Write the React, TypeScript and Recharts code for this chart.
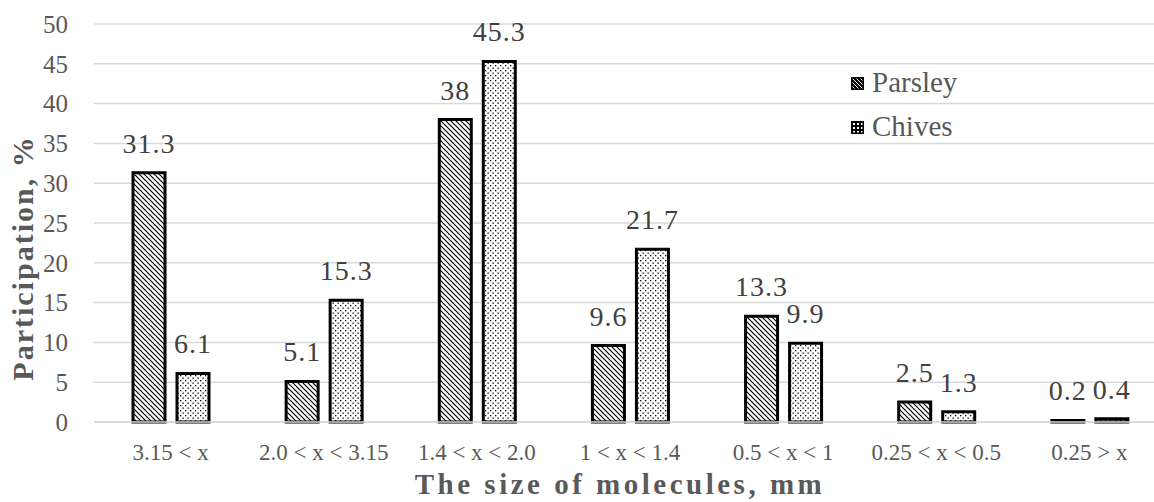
import React from 'react';
import { BarChart, Bar, XAxis, YAxis, CartesianGrid, LabelList } from 'recharts';

const categories = ['3.15 < x', '2.0 < x < 3.15', '1.4 < x < 2.0', '1 < x < 1.4', '0.5 < x < 1', '0.25 < x < 0.5', '0.25 > x'];
const parsley = [31.3, 5.1, 38, 9.6, 13.3, 2.5, 0.2];
const chives = [6.1, 15.3, 45.3, 21.7, 9.9, 1.3, 0.4];
const yTicks = [0, 5, 10, 15, 20, 25, 30, 35, 40, 45, 50];
const seriesNames = ['Parsley', 'Chives'];
const xTitle = 'The size of molecules, mm';
const yTitle = 'Participation, %';

const data = categories.map((c, i) => ({ name: c, parsley: parsley[i], chives: chives[i] }));

const FONT = '"Liberation Serif", "Times New Roman", serif';

const Patterns = () => (
  <svg width="0" height="0" style={{ position: 'absolute' }}>
    <defs>
      <pattern id="hatch" width="5" height="5" patternUnits="userSpaceOnUse">
        <rect width="5" height="5" fill="#fff" />
        <path d="M0,0 L5,5 M-1,4 L1,6 M4,-1 L6,1" stroke="#000" strokeWidth="1.2" />
      </pattern>
      <pattern id="dots" width="5" height="5" patternUnits="userSpaceOnUse">
        <rect width="5" height="5" fill="#fff" />
        <rect x="0" y="0" width="1.3" height="1.3" fill="#000" />
        <rect x="2.5" y="2.5" width="1.3" height="1.3" fill="#000" />
      </pattern>
      <pattern id="hatchInv" width="4" height="4" patternUnits="userSpaceOnUse">
        <rect width="4" height="4" fill="#000" />
        <path d="M0,0 L4,4 M-1,3 L1,5 M3,-1 L5,1" stroke="#fff" strokeWidth="1" />
      </pattern>
      <pattern id="dotsInv" width="4" height="4" patternUnits="userSpaceOnUse">
        <rect width="4" height="4" fill="#000" />
        <rect x="1" y="1" width="2" height="2" fill="#fff" />
      </pattern>
    </defs>
  </svg>
);

const Overlay = () => (
  <svg width="1154" height="502" style={{ position: 'absolute', left: 0, top: 0, pointerEvents: 'none' }}>
    {seriesNames.map((n, i) => (
      <g key={n} transform={`translate(848, ${62 + i * 44})`}>
        <rect x="3.75" y="15.75" width="11.5" height="11.5" fill={i === 0 ? 'url(#hatchInv)' : 'url(#dotsInv)'} stroke="#000" strokeWidth="1.5" />
        <text x="24" y="30" fill="#595959" fontSize={29} fontFamily={FONT}>{n}</text>
      </g>
    ))}
    <text
      x={620}
      y={494}
      textAnchor="middle"
      fill="#595959"
      fontSize={29}
      fontWeight="bold"
      fontFamily={FONT}
      letterSpacing={3.5}
    >
      {xTitle}
    </text>
    <text
      x={0}
      y={0}
      transform="translate(33, 258) rotate(-90)"
      textAnchor="middle"
      fill="#595959"
      fontSize={30}
      fontWeight="bold"
      fontFamily={FONT}
      letterSpacing={2}
    >
      {yTitle}
    </text>
  </svg>
);

export default function App() {
  return (
    <div style={{ position: 'absolute', left: 0, top: 0, width: 1154, height: 502, overflow: 'hidden', background: '#fff' }}>
      <Patterns />
      <BarChart
        width={1170}
        height={502}
        data={data}
        margin={{ top: 24, right: 4, bottom: 0, left: 0 }}
        barSize={32}
        barGap={12}
      >
        <CartesianGrid vertical={false} stroke="#d9d9d9" strokeWidth={1.5} />
        <XAxis
          dataKey="name"
          height={80}
          tickLine={false}
          axisLine={{ stroke: '#d9d9d9', strokeWidth: 1.5 }}
          tickSize={0}
          tickMargin={22}
          interval={0}
          tick={{ fill: '#595959', fontSize: 23, fontFamily: FONT }}
        />
        <YAxis
          width={94}
          domain={[0, 50]}
          ticks={yTicks}
          tickLine={false}
          axisLine={false}
          tickSize={0}
          tickMargin={26}
          tick={{ fill: '#595959', fontSize: 25, fontFamily: FONT }}
        />
        <Bar dataKey="parsley" fill="url(#hatch)" stroke="#000" strokeWidth={3} isAnimationActive={false}>
          <LabelList dataKey="parsley" position="top" offset={20} fill="#404040" fontSize={28} fontFamily={FONT} letterSpacing={1} />
        </Bar>
        <Bar dataKey="chives" fill="url(#dots)" stroke="#000" strokeWidth={3} isAnimationActive={false}>
          <LabelList dataKey="chives" position="top" offset={20} fill="#404040" fontSize={28} fontFamily={FONT} letterSpacing={1} />
        </Bar>
      </BarChart>
      <Overlay />
    </div>
  );
}
